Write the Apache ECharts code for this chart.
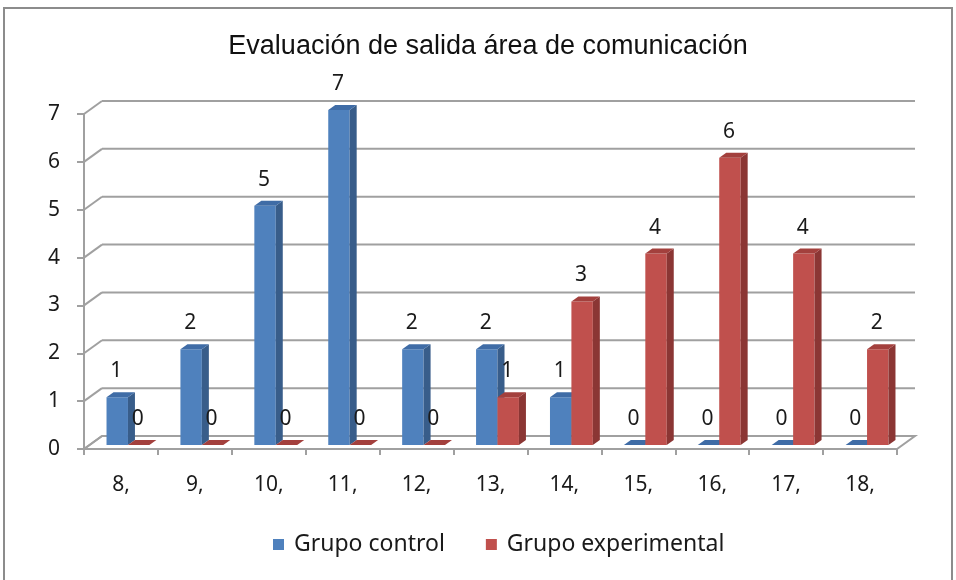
<!DOCTYPE html>
<html>
<head>
  <meta charset="utf-8">
  <title>Evaluación de salida área de comunicación</title>
  <script src="https://cdn.jsdelivr.net/npm/echarts@6/dist/echarts.min.js"></script>
  <style>
    html, body { margin: 0; padding: 0; background: #fff; }
  </style>
</head>
<body>
  <div id="chart" style="width: 956px;height:580px;"></div>
  <script type="application/javascript">
      // datos
      var categorias = ['8,', '9,', '10,', '11,', '12,', '13,', '14,', '15,', '16,', '17,', '18,'];
      var grupoControl = [1, 2, 5, 7, 2, 2, 1, 0, 0, 0, 0];
      var grupoExperimental = [0, 0, 0, 0, 0, 1, 3, 4, 6, 4, 2];
      var ticksY = [0, 1, 2, 3, 4, 5, 6, 7];

      // profundidad del efecto 3D
      var DX = 18, DY = -13;      // fondo de la pared
      var OX = 7, OY = -4;        // posición de las barras dentro del suelo
      var BX = 7, BY = -5;        // grosor de cada barra
      var FONT = 'Noto Sans';

      var myChart = echarts.init(document.getElementById('chart'));

      function paredes(params, api) {
          var v = api.value(1);
          var y = api.coord([0, v])[1];
          var x0 = params.coordSys.x;
          var w = params.coordSys.width;
          var lineStyle = { stroke: '#a0a0a0', lineWidth: 2, fill: null };
          var children = [];
          if (v === 0) {
              children.push({
                  type: 'polygon',
                  shape: { points: [[x0, y], [x0 + w, y], [x0 + w + DX, y + DY], [x0 + DX, y + DY]] },
                  style: { fill: '#fff', stroke: '#a0a0a0', lineWidth: 2 }
              });
          } else {
              children.push({
                  type: 'line',
                  shape: { x1: x0 + DX, y1: y + DY, x2: x0 + w + DX, y2: y + DY },
                  style: lineStyle
              });
          }
          children.push({
              type: 'line',
              shape: { x1: x0, y1: y, x2: x0 + DX, y2: y + DY },
              style: lineStyle
          });
          return { type: 'group', children: children };
      }

      function barra(k, frente, lado, techo) {
          return function (params, api) {
              var ci = api.value(0), v = api.value(1);
              var base = api.coord([ci, 0]);
              var tope = api.coord([ci, v]);
              var bw = api.size([1, 0])[0] * 0.29;
              var x0 = base[0] - bw + k * bw + OX;
              var x1 = x0 + bw;
              var yb = base[1] + OY;
              var yt = tope[1] + OY;
              var children = [];
              if (v > 0) {
                  children.push({
                      type: 'rect',
                      shape: { x: x0, y: yt, width: bw, height: yb - yt },
                      style: { fill: frente }
                  });
                  children.push({
                      type: 'polygon',
                      shape: { points: [[x1, yt], [x1 + BX, yt + BY], [x1 + BX, yb + BY], [x1, yb]] },
                      style: { fill: lado }
                  });
              }
              children.push({
                  type: 'polygon',
                  shape: { points: [[x0, yt], [x1, yt], [x1 + BX, yt + BY], [x0 + BX, yt + BY]] },
                  style: { fill: techo }
              });
              children.push({
                  type: 'text',
                  style: {
                      x: (x0 + x1) / 2 - 1,
                      y: yt - 26,
                      text: String(v),
                      fill: '#1a1a1a',
                      font: '21px "' + FONT + '"',
                      align: 'center',
                      verticalAlign: 'middle'
                  }
              });
              return { type: 'group', children: children };
          };
      }

      myChart.setOption({
          animation: false,
          title: {
              text: 'Evaluación de salida área de comunicación',
              left: 483,
              textAlign: 'center',
              top: 28,
              textStyle: { fontFamily: 'Liberation Sans', fontSize: 27, fontWeight: 'normal', color: '#111' }
          },
          legend: {
              bottom: 19,
              left: 268,
              icon: 'rect',
              itemWidth: 11,
              itemHeight: 11,
              itemGap: 41,
              textStyle: { fontFamily: FONT, fontSize: 23, color: '#1a1a1a', padding: [0, 0, 0, 5] },
              data: ['Grupo control', 'Grupo experimental']
          },
          graphic: [{
              type: 'rect',
              shape: { x: 4, y: 8, width: 948, height: 590 },
              style: { fill: null, stroke: '#8c8c8c', lineWidth: 2 },
              silent: true
          }],
          grid: { left: 84, right: 59, top: 114, bottom: 131 },
          xAxis: {
              type: 'category',
              data: categorias,
              axisLine: { show: false },
              axisTick: { show: true, length: 6, lineStyle: { color: '#a0a0a0', width: 2 } },
              axisLabel: { margin: 26, fontFamily: FONT, fontSize: 21, color: '#1a1a1a' }
          },
          yAxis: {
              type: 'value',
              min: 0,
              max: 7,
              interval: 1,
              axisLine: { show: true, lineStyle: { color: '#a0a0a0', width: 2 } },
              axisTick: { show: true, length: 7, lineStyle: { color: '#a0a0a0', width: 2 } },
              splitLine: { show: false },
              axisLabel: { margin: 24, fontFamily: FONT, fontSize: 21, color: '#1a1a1a' }
          },
          series: [
              {
                  type: 'custom',
                  silent: true,
                  z: 1,
                  renderItem: paredes,
                  data: ticksY.map(function (t) { return [0, t]; })
              },
              {
                  name: 'Grupo control',
                  type: 'custom',
                  z: 2,
                  itemStyle: { color: '#4f81bd' },
                  renderItem: barra(0, '#4f81bd', '#385d8a', '#3f6ca6'),
                  data: grupoControl.map(function (v, i) { return [i, v]; })
              },
              {
                  name: 'Grupo experimental',
                  type: 'custom',
                  z: 3,
                  itemStyle: { color: '#c0504d' },
                  renderItem: barra(1, '#c0504d', '#8b3634', '#a3403d'),
                  data: grupoExperimental.map(function (v, i) { return [i, v]; })
              }
          ]
      });
  </script>
</body>
</html>
